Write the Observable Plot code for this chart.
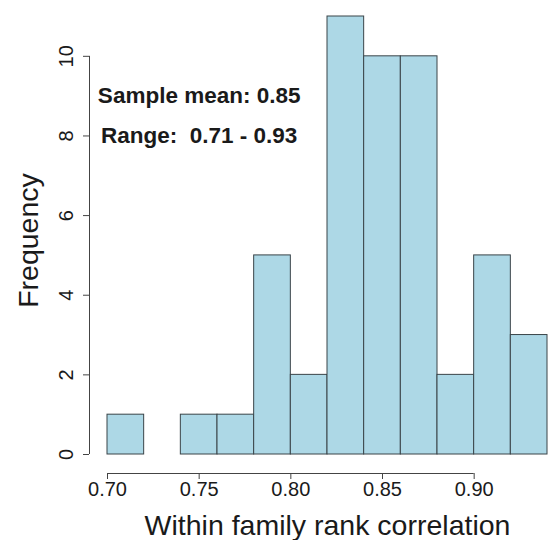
<!DOCTYPE html>
<html><head><meta charset="utf-8">
<script src="https://cdn.jsdelivr.net/npm/d3@7"></script>
<script src="https://cdn.jsdelivr.net/npm/@observablehq/plot@0.6"></script>
<style>body{margin:0;background:#fff} svg text{white-space:pre}</style>
</head><body><div id="chart"></div>
<script>
const binLower = [0.70,0.72,0.74,0.76,0.78,0.80,0.82,0.84,0.86,0.88,0.90,0.92];
const binUpper = [0.72,0.74,0.76,0.78,0.80,0.82,0.84,0.86,0.88,0.90,0.92,0.94];
const counts = [1,0,1,1,5,2,11,10,10,2,5,3];
const xTicks = [0.70,0.75,0.80,0.85,0.90];
const yTicks = [0,2,4,6,8,10];
const annoText = ["Sample mean: 0.85","Range:  0.71 - 0.93"];
const annoX = [0.75,0.75];
const annoY = [9,8];
const xTitle = "Within family rank correlation";
const yTitle = "Frequency";

const bins = binLower.map((lo,i)=>({lo, hi: binUpper[i], n: counts[i]})).filter(d=>d.n>0);
const notes = annoText.map((t,i)=>({t, x: annoX[i], y: annoY[i]}));
const ink = "#1a1a1a", axisInk = "#444";

const chart = Plot.plot({
  width:548, height:540, marginLeft:107, marginRight:1, marginTop:16, marginBottom:86,
  style:{fontFamily:"'Liberation Sans', Arial, sans-serif", background:"#fff", color: ink},
  x:{domain:[binLower[0], binUpper[binUpper.length-1]], axis:null},
  y:{domain:[0,11], axis:null},
  marks:[
    Plot.rectY(bins,{x1:"lo",x2:"hi",y1:0,y2:"n",fill:"#ADD8E6",stroke:"#3a4448",strokeWidth:1}),
    Plot.ruleX([xTicks[0]],{y1:yTicks[0],y2:yTicks[yTicks.length-1],dx:-18,stroke:axisInk}),
    Plot.axisY(yTicks,{anchor:"left",tickSize:6,tickPadding:17,dx:-18,tickRotate:-90,textAnchor:"middle",lineAnchor:"middle",fontSize:20,label:null,stroke:axisInk,fill:ink}),
    Plot.ruleY([yTicks[0]],{x1:xTicks[0],x2:xTicks[xTicks.length-1],dy:19,stroke:axisInk}),
    Plot.axisX(xTicks,{anchor:"bottom",tickSize:6,tickPadding:2,dy:19,tickFormat:d3.format(".2f"),fontSize:20,label:null,stroke:axisInk,fill:ink}),
    Plot.text(notes,{x:"x",y:"y",text:"t",fontWeight:"bold",fontSize:22.5,fill:ink,textAnchor:"middle"}),
    Plot.text([xTitle],{text:d=>d,frameAnchor:"bottom",textAnchor:"middle",lineAnchor:"bottom",dy:80,fontSize:28.5,fill:ink}),
    Plot.text([yTitle],{text:d=>d,frameAnchor:"left",textAnchor:"middle",rotate:-90,lineAnchor:"bottom",dx:-70,dy:5,fontSize:28.5,fill:ink})
  ]
});
document.getElementById("chart").appendChild(chart);
</script>
</body></html>
